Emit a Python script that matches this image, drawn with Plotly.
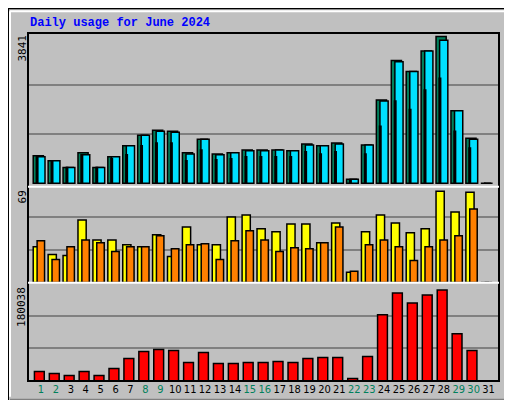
import plotly.graph_objects as go

days = list(range(1, 32))
weekend = [1, 2, 8, 9, 15, 16, 22, 23, 29, 30]

hits = [720, 590, 415, 800, 415, 697, 980, 1260, 1390, 1360, 800, 1155, 770, 800, 875,
        875, 875, 850, 1030, 980, 1055, 105, 1000, 2180, 3210, 2925, 3460, 3841, 1900, 1180, 0]
files = [697, 590, 415, 748, 415, 697, 980, 1260, 1360, 1335, 770, 1155, 748, 800, 850,
         850, 875, 850, 1000, 980, 1030, 105, 1000, 2155, 3180, 2925, 3460, 3740, 1900, 1155, 0]
pages = [690, 590, 415, 748, 415, 650, 748, 980, 1055, 1055, 590, 875, 620, 645, 697,
         697, 697, 697, 825, 770, 825, 80, 770, 1490, 2155, 1930, 2440, 2750, 1360, 925, 0]
visits = [25.3, 19.8, 19, 44, 30, 30, 26.7, 25.3, 33.7, 18.3, 39.2, 26.7, 26.7, 46.2, 47.6,
          37.9, 35.8, 41.3, 41.3, 28, 42, 7.2, 35.8, 47.6, 42, 35.1, 37.9, 64.3, 49.7, 63.6, 0]
sites = [29.5, 16.3, 25.3, 30, 28, 21.8, 25.3, 25.3, 33, 23.9, 26.7, 27.4, 16.3, 29.5, 36.5,
         30, 21.8, 24.6, 23.9, 28, 39.2, 7.9, 26.7, 30, 25.3, 15.6, 25.3, 30, 33, 51.8, 0]
kbytes = [17100, 13500, 9800, 17100, 9800, 22700, 41000, 53900, 57600, 55700, 33700, 52100,
          31900, 31900, 33700, 33700, 35500, 33700, 41000, 42900, 42900, 4300, 44700, 121900,
          162300, 143900, 158600, 167800, 87000, 55700, 0]

max_hits, max_visits, max_kb = 3841, 69, 180038

BG = "#C0C0C0"
line = dict(color="black", width=1.5)

fig = go.Figure()

def bars(y, color, offset, width, axis):
    fig.add_trace(go.Bar(x=days, y=y, offset=offset, width=width, marker_color=color,
                         marker_line=line, yaxis=axis, hoverinfo="skip"))

bars(hits, "#00805C", -0.52, 0.68, "y")
bars(files, "#00E0FF", -0.28, 0.55, "y")
bars(pages, "#0040FF", -0.31, 0.1, "y")
bars(visits, "#FFFF00", -0.52, 0.55, "y2")
bars(sites, "#FF8000", -0.26, 0.5, "y2")
bars(kbytes, "#FF0000", -0.44, 0.66, "y3")

ticktext = [f'<span style="color:{"#00805C" if d in weekend else "black"}">{d}</span>' for d in days]

grid = dict(showgrid=True, gridcolor="#808080", gridwidth=1.5, showticklabels=False,
            zeroline=False, ticks="")
fig.update_layout(
    width=512, height=400, barmode="overlay", showlegend=False,
    paper_bgcolor=BG, plot_bgcolor=BG,
    margin=dict(l=20, r=21, t=25, b=24),
    font=dict(family="DejaVu Sans Mono", size=11, color="black"),
    xaxis=dict(range=[0.13, 31.7], tickvals=days, ticktext=ticktext, showgrid=False,
               zeroline=False, anchor="y3", ticks="", tickangle=0,
               tickfont=dict(size=11, family="DejaVu Sans Condensed")),
    yaxis=dict(domain=[0.558, 1], range=[-90, 3930],
               tickvals=[max_hits / 3, 2 * max_hits / 3], **grid),
    yaxis2=dict(domain=[0.282, 0.558], range=[-0.2, 67.4],
                tickvals=[23, 46], **grid),
    yaxis3=dict(domain=[0, 0.282], range=[-550, 181100],
                tickvals=[max_kb / 3, 2 * max_kb / 3], **grid),
)

# frame, separators and bevel
fig.add_shape(type="rect", xref="paper", yref="paper", x0=0, x1=1, y0=0, y1=1,
              line=dict(color="black", width=2))
for yy in [0.558, 0.282]:
    fig.add_shape(type="line", xref="paper", yref="paper", x0=0, x1=1, y0=yy, y1=yy,
                  line=dict(color="white", width=2))
fig.add_shape(type="rect", xref="paper", yref="paper", x0=-20 / 471, x1=1 + 21 / 471,
              y0=-24 / 351, y1=1 + 25 / 351, line=dict(color="black", width=2))
fig.add_shape(type="line", xref="paper", yref="paper", x0=-18 / 471, x1=1 + 13 / 471,
              y0=1 + 22 / 351, y1=1 + 22 / 351, line=dict(color="white", width=2))
fig.add_shape(type="line", xref="paper", yref="paper", x0=-18 / 471, x1=-18 / 471,
              y0=-16 / 351, y1=1 + 22 / 351, line=dict(color="white", width=2))
fig.add_shape(type="line", xref="paper", yref="paper", x0=-18 / 471, x1=1 + 19 / 471,
              y0=-20 / 351, y1=-20 / 351, line=dict(color="#808080", width=4))
fig.add_shape(type="line", xref="paper", yref="paper", x0=1 + 19 / 471, x1=1 + 19 / 471,
              y0=-20 / 351, y1=1 + 16 / 351, line=dict(color="#808080", width=4))

fig.add_annotation(text="<b>Daily usage for June 2024</b>", xref="paper", yref="paper",
                   x=0, y=1 + 10 / 351, xanchor="left", yanchor="middle", showarrow=False,
                   font=dict(family="Liberation Mono", size=12, color="#0000FF"))

for label, yy in [(str(max_hits), 1), (str(max_visits), 0.552), (str(max_kb), 0.276)]:
    fig.add_annotation(text=label, xref="paper", yref="paper", x=-6 / 471, y=yy,
                       xanchor="center", yanchor="top", textangle=-90, showarrow=False,
                       font=dict(size=11))

side = [
    ('<span style="color:#00E0FF">Pages</span> / <span style="color:#0040FF">Files</span>'
     ' / <span style="color:#00805C">Hits</span>', 0.995),
    ('<span style="color:#FF8000">Sites</span> / <span style="color:#FFFF00">Visits</span>', 0.552),
    ('<span style="color:#FF0000">KBytes</span>', 0.276),
]
for text, yy in side:
    fig.add_annotation(text=text, xref="paper", yref="paper", x=1 + 3 / 471, y=yy,
                       xanchor="left", yanchor="top", textangle=-90, showarrow=False,
                       font=dict(size=11))

fig.write_html("out.html")
